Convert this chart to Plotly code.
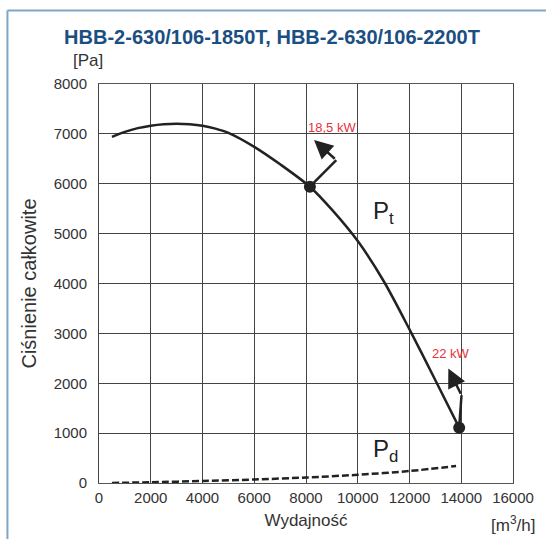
import plotly.graph_objects as go

# Data
pt_x = [500, 1000, 1500, 2000, 2500, 3000, 3500, 4000, 4500, 5000, 6000, 7000, 8150, 9000, 10000, 11000, 12000, 13000, 13920]
pt_y = [6940, 7040, 7115, 7165, 7195, 7205, 7195, 7165, 7105, 7020, 6740, 6390, 5940, 5480, 4850, 4050, 3080, 2060, 1110]
pd_x = [500, 2000, 4000, 6000, 8000, 10000, 12000, 13800]
pd_y = [0, 15, 40, 70, 110, 165, 240, 340]
point_x = [8150, 13920]
point_y = [5940, 1110]
power_labels = ["18,5 kW", "22 kW"]
label_x = [9000, 13615]
label_y = [7120, 2600]
bend_x = [9170, 14010]
bend_y = [6475, 1760]
tip_x = [8310, 13500]
tip_y = [6875, 2295]
x_ticks = [0, 2000, 4000, 6000, 8000, 10000, 12000, 14000, 16000]
y_ticks = [0, 1000, 2000, 3000, 4000, 5000, 6000, 7000, 8000]

FONT = "Liberation Sans, Arial, sans-serif"
DARK = "#222222"
fig = go.Figure()

fig.add_trace(go.Scatter(x=pt_x, y=pt_y, mode="lines",
                         line=dict(color=DARK, width=2.5, shape="spline", smoothing=0.8),
                         showlegend=False, hoverinfo="skip"))
fig.add_trace(go.Scatter(x=pd_x, y=pd_y, mode="lines",
                         line=dict(color=DARK, width=2.5, dash="7px,3px", shape="spline", smoothing=0.8),
                         showlegend=False, hoverinfo="skip"))
# power arrows: operating point -> bend, then arrow bend -> tip
for i in range(len(point_x)):
    fig.add_trace(go.Scatter(x=[point_x[i], bend_x[i]], y=[point_y[i], bend_y[i]], mode="lines",
                             line=dict(color=DARK, width=2.5), showlegend=False, hoverinfo="skip"))
    fig.add_annotation(x=tip_x[i], y=tip_y[i], ax=bend_x[i], ay=bend_y[i], axref="x", ayref="y",
                       xref="x", yref="y", text="", showarrow=True, arrowhead=2, arrowsize=1.5,
                       arrowwidth=2.5, arrowcolor=DARK, standoff=0, startstandoff=0)
    fig.add_annotation(x=label_x[i], y=label_y[i], text=power_labels[i], showarrow=False,
                       font=dict(family=FONT, size=13, color="#e8313a"))
fig.add_trace(go.Scatter(x=point_x, y=point_y, mode="markers", marker=dict(color=DARK, size=12),
                         showlegend=False, hoverinfo="skip"))

fig.add_annotation(x=10500, y=5420, text="P<sub>t</sub>", showarrow=False, xanchor="left",
                   font=dict(family=FONT, size=24, color=DARK))
fig.add_annotation(x=10500, y=660, text="P<sub>d</sub>", showarrow=False, xanchor="left",
                   font=dict(family=FONT, size=24, color=DARK))

# Units
fig.add_annotation(x=(88 - 99) / 416, y=(483 - 60) / 399, xref="paper", yref="paper", text="[Pa]",
                   xanchor="center", yanchor="middle",
                   showarrow=False, font=dict(family=FONT, size=17, color="#333333"))
fig.add_annotation(x=(515 - 99) / 416, y=(483 - 524) / 399, xref="paper", yref="paper", text="[m<sup>3</sup>/h]",
                   xanchor="center", yanchor="middle",
                   showarrow=False, font=dict(family=FONT, size=17, color="#333333"))

# frame
fig.add_shape(type="line", xref="paper", yref="paper", x0=(7 - 99) / 416, x1=(7 - 99) / 416,
              y0=(483 - 10.5) / 399, y1=(483 - 545) / 399, line=dict(color="#7fa6c4", width=2))
fig.add_shape(type="line", xref="paper", yref="paper", x0=(7 - 99) / 416, x1=(550 - 99) / 416,
              y0=(483 - 10.5) / 399, y1=(483 - 10.5) / 399, line=dict(color="#7fa6c4", width=2))

fig.update_layout(
    width=546, height=539,
    margin=dict(l=99, r=31, t=84, b=56),
    paper_bgcolor="white", plot_bgcolor="white",
    title=dict(text="<b>HBB-2-630/106-1850T, HBB-2-630/106-2200T</b>", x=272 / 546, xanchor="center",
               y=1 - 37 / 539, yanchor="middle",
               font=dict(family="Liberation Sans, Arial, sans-serif", size=20, color="#1b4f82")),
    xaxis=dict(range=[0, 16000], tickvals=x_ticks, ticktext=[str(v) for v in x_ticks],
               showgrid=True, gridcolor="#444444", gridwidth=1, showline=True, linecolor="#555555",
               mirror=True, zeroline=False, ticks="outside", ticklen=1, tickcolor="rgba(0,0,0,0)",
               tickfont=dict(family=FONT, size=15, color="#333333"),
               title=dict(text="Wydajność", font=dict(family=FONT, size=17, color="#333333"), standoff=9)),
    yaxis=dict(range=[0, 8000], tickvals=y_ticks, ticktext=[str(v) for v in y_ticks],
               showgrid=True, gridcolor="#444444", gridwidth=1, showline=True, linecolor="#444444",
               mirror=True, zeroline=False, ticks="outside", ticklen=8, tickcolor="rgba(0,0,0,0)",
               tickfont=dict(family=FONT, size=15, color="#333333"),
               title=dict(text="Ciśnienie całkowite", font=dict(family=FONT, size=20, color="#333333"), standoff=11)),
)

fig.write_html("out.html", config={"displayModeBar": False},
               post_script="document.body.style.margin='0';")
